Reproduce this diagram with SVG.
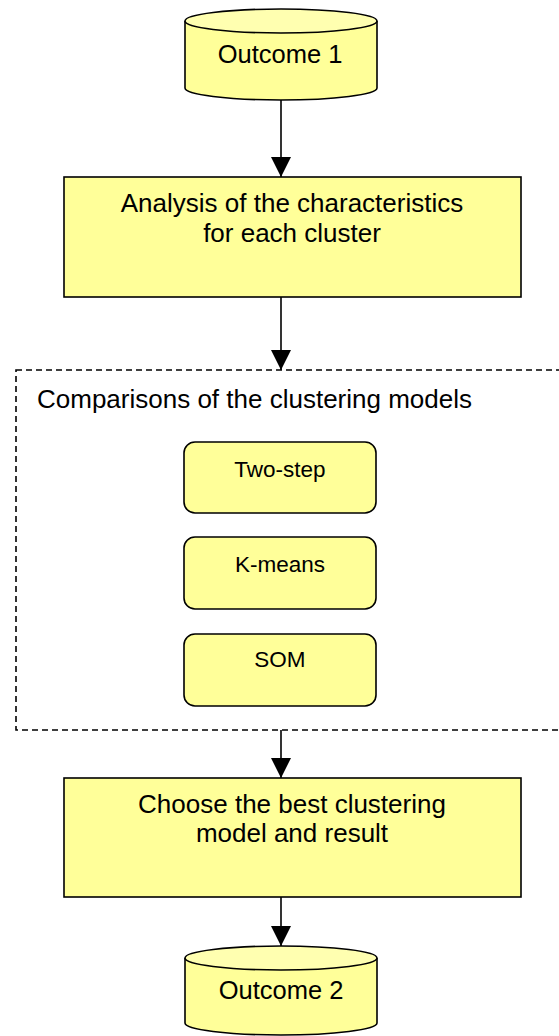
<svg xmlns="http://www.w3.org/2000/svg" width="559" height="1036" viewBox="0 0 559 1036">
<style>
.box{fill:#FFFF99;stroke:#000;stroke-width:1.6}
.top{fill:#FFFFB0;stroke:#000;stroke-width:1.6}
.t{font-family:"Liberation Sans",Arial,sans-serif;fill:#000}
.big{font-size:26px}
.mid{font-size:25.5px}
.sm{font-size:22.5px}
.conn{stroke:#000;stroke-width:1.6;fill:none}
.dash{fill:none;stroke:#000;stroke-width:1.6;stroke-dasharray:6,4}
</style>
<defs>
<marker id="ah" viewBox="0 0 20 20" refX="20" refY="10" markerWidth="20" markerHeight="20" markerUnits="userSpaceOnUse" orient="auto">
<path d="M0,0 L20,10 L0,20 Z" fill="#000"/>
</marker>
</defs>
<rect width="559" height="1036" fill="#fff"/>

<g id="group-comparisons">
<rect class="dash" x="16" y="370" width="546" height="360"/>
<text class="t big" x="37" y="408">Comparisons of the clustering models</text>
</g>

<g id="outcome1">
<path class="box" d="M185,21 L185,88 A96,12 0 0 0 377,88 L377,21"/>
<ellipse class="top" cx="281" cy="21" rx="96" ry="12"/>
<text class="t mid" x="280" y="63" text-anchor="middle">Outcome 1</text>
</g>

<g id="analysis">
<rect class="box" x="64" y="177" width="457" height="120"/>
<text class="t big" x="292" y="212" text-anchor="middle">Analysis of the characteristics</text>
<text class="t big" x="292" y="242" text-anchor="middle">for each cluster</text>
</g>

<g id="twostep">
<rect class="box" x="184" y="442" width="192" height="71" rx="11"/>
<text class="t sm" x="280" y="477" text-anchor="middle">Two-step</text>
</g>

<g id="kmeans">
<rect class="box" x="184" y="537" width="192" height="72" rx="11"/>
<text class="t sm" x="280" y="572" text-anchor="middle">K-means</text>
</g>

<g id="som">
<rect class="box" x="184" y="634" width="192" height="72" rx="11"/>
<text class="t sm" x="280" y="667" text-anchor="middle">SOM</text>
</g>

<g id="choose">
<rect class="box" x="64" y="778" width="457" height="119"/>
<text class="t big" x="292" y="813" text-anchor="middle">Choose the best clustering</text>
<text class="t big" x="292" y="842" text-anchor="middle">model and result</text>
</g>

<g id="outcome2">
<path class="box" d="M185,958 L185,1023 A96,12 0 0 0 377,1023 L377,958"/>
<ellipse class="top" cx="281" cy="958" rx="96" ry="12"/>
<text class="t mid" x="281" y="999" text-anchor="middle">Outcome 2</text>
</g>

<g id="connectors">
<line class="conn" x1="281" y1="100" x2="281" y2="177" marker-end="url(#ah)"/>
<line class="conn" x1="281" y1="297" x2="281" y2="370" marker-end="url(#ah)"/>
<line class="conn" x1="281" y1="730" x2="281" y2="778" marker-end="url(#ah)"/>
<line class="conn" x1="281" y1="897" x2="281" y2="946" marker-end="url(#ah)"/>
</g>
</svg>
